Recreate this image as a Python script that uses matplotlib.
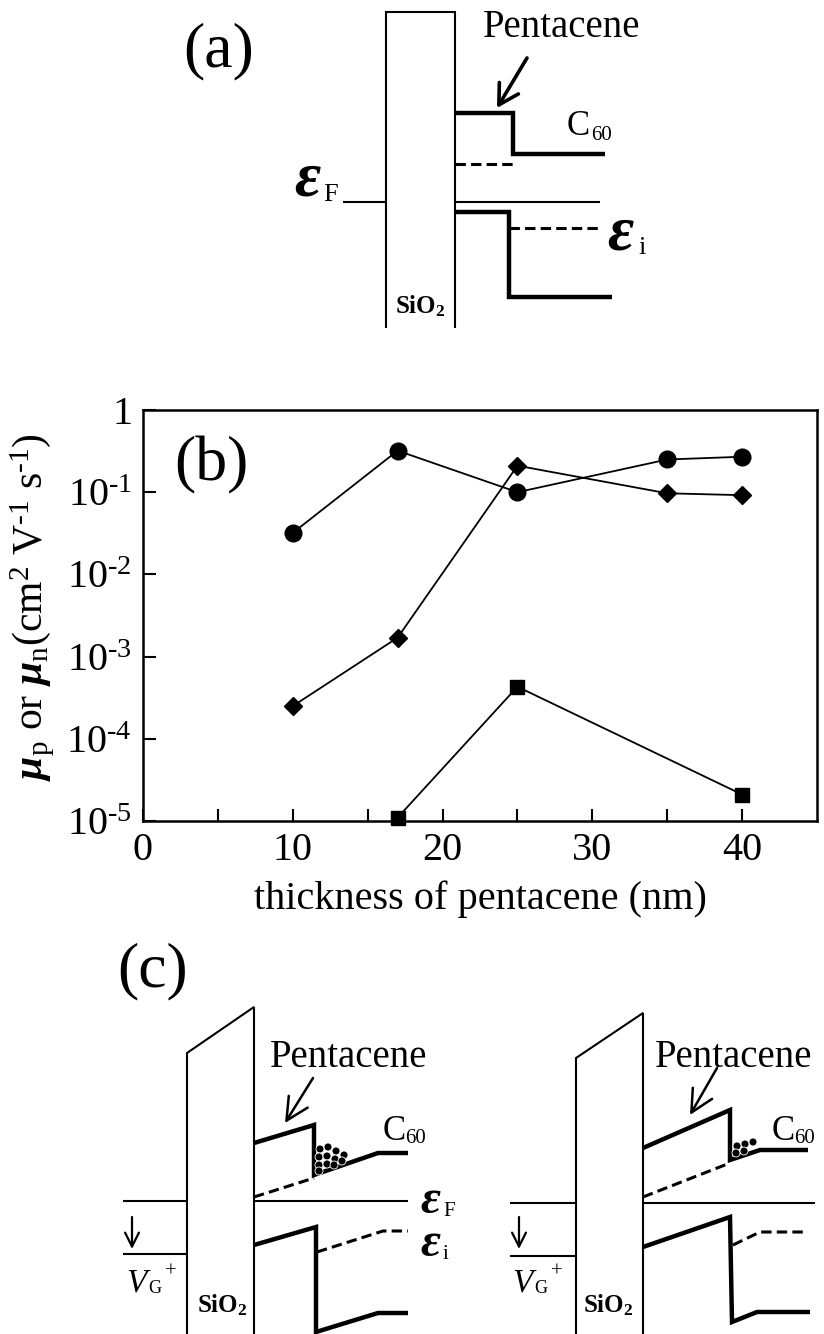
import matplotlib
matplotlib.use('Agg')
import matplotlib.pyplot as plt
from matplotlib.patches import Circle
from matplotlib.ticker import FixedLocator, NullLocator

# panel (b) data
thickness = [10, 17, 25, 35, 40]
mu_circle = [0.032, 0.32, 0.10, 0.25, 0.27]
mu_diamond = [2.5e-4, 1.7e-3, 0.21, 0.097, 0.092]
thickness_sq = [17, 25, 40]
mu_square = [1.1e-5, 4.3e-4, 2.1e-5]

x_ticks = [0, 10, 20, 30, 40]
x_minor = [5, 15, 25, 35]
y_ticks = [1e-5, 1e-4, 1e-3, 1e-2, 1e-1, 1]
y_tick_labels = [r'$10^{\text{-}5}$', r'$10^{\text{-}4}$', r'$10^{\text{-}3}$',
                 r'$10^{\text{-}2}$', r'$10^{\text{-}1}$', r'$1$']

# band diagrams, figure pixel coords (y down)
sio2_a = [(386, 328), (386, 12), (455, 12), (455, 328)]
ef_a = [[(343, 202), (386, 202)], [(455, 202), (600, 202)]]
lumo_a = [(455, 113), (513, 113), (513, 154), (605, 154)]
homo_a = [(455, 212), (509, 212), (509, 297), (612, 297)]
dash_a = [[(455, 164), (515, 164)], [(509, 228), (600, 228)]]

sio2_c1 = [(187, 1334), (187, 1053), (254, 1007), (254, 1334)]
thin_c1 = [[(123, 1201), (187, 1201)], [(123, 1254), (187, 1254)], [(254, 1201), (408, 1201)]]
lumo_c1 = [(254, 1143), (314, 1125), (314, 1175), (378, 1153), (408, 1153)]
homo_c1 = [(254, 1245), (316, 1227), (316, 1332), (378, 1313), (408, 1313)]
dash_c1 = [[(254, 1197), (314, 1178)], [(317, 1252), (383, 1231), (408, 1231)]]
balls_c1 = [(320, 1149), (328, 1147), (336, 1151), (344, 1155), (319, 1157), (327, 1156),
            (335, 1159), (342, 1161), (319, 1165), (327, 1164), (334, 1165), (319, 1171)]

sio2_c2 = [(576, 1334), (576, 1058), (643, 1013), (643, 1334)]
thin_c2 = [[(510, 1203), (576, 1203)], [(510, 1256), (576, 1256)], [(643, 1203), (815, 1203)]]
lumo_c2 = [(643, 1148), (730, 1110), (730, 1160), (760, 1150), (808, 1150)]
homo_c2 = [(643, 1247), (730, 1217), (732, 1322), (757, 1312), (810, 1312)]
dash_c2 = [[(643, 1197), (730, 1163)], [(733, 1245), (760, 1232), (808, 1232)]]
balls_c2 = [(737, 1146), (745, 1144), (753, 1142), (736, 1153), (744, 1151)]

plt.rcParams['font.family'] = 'Liberation Serif'
plt.rcParams['mathtext.fontset'] = 'custom'
plt.rcParams['mathtext.rm'] = 'Liberation Serif'
plt.rcParams['mathtext.it'] = 'Liberation Serif:italic'
plt.rcParams['mathtext.bf'] = 'Liberation Serif:bold'
plt.rcParams['mathtext.bfit'] = 'Liberation Serif:italic:bold'

fig = plt.figure(figsize=(8.24, 13.34), dpi=100)
dg = fig.add_axes([0, 0, 1, 1])
dg.set_xlim(0, 824)
dg.set_ylim(1334, 0)
dg.axis('off')


def poly(pts, lw=1.5, ls='-'):
    dg.plot([p[0] for p in pts], [p[1] for p in pts], color='black', lw=lw, ls=ls,
            solid_joinstyle='miter', solid_capstyle='butt', dash_capstyle='butt')


def arrow(tail, head, lw, hl, hw):
    dg.annotate('', xy=head, xytext=tail,
                arrowprops=dict(arrowstyle='->,head_length=%s,head_width=%s' % (hl, hw),
                                lw=lw, color='black', shrinkA=0, shrinkB=0,
                                mutation_scale=20))


def sub_text(x, y, main, sub, size, subsize, dx, dy, **kw):
    dg.text(x, y, main, size=size, ha='left', va='baseline', **kw)
    dg.text(x + dx, y + dy, sub, size=subsize, ha='left', va='baseline')


dashes = (0, (3.4, 1.7))
thick = 3.2

# (a)
poly(sio2_a)
for seg in ef_a:
    poly(seg)
poly(lumo_a, thick)
poly(homo_a, thick)
for seg in dash_a:
    poly(seg, 2.2, dashes)
dg.text(183, 51, '(a)', size=46, ha='left', va='center')
dg.text(483, 37, 'Pentacene', size=28, ha='left', va='baseline')
arrow((527, 58), (497, 108), 2.6, 0.7, 0.4)
sub_text(567, 135, 'C', '60', 25, 15, 24, 5)
sub_text(294, 195, 'ε', 'F', 46, 19, 29, 6, style='italic', weight='bold')
sub_text(607, 250, 'ε', 'i', 46, 19, 31, 4, style='italic', weight='bold')
dg.text(420, 313, r'$\mathbf{SiO_2}$', size=18, ha='center', va='baseline')

# (c)
for sio2, thin, lumo, homo, dsh, balls in [(sio2_c1, thin_c1, lumo_c1, homo_c1, dash_c1, balls_c1),
                                           (sio2_c2, thin_c2, lumo_c2, homo_c2, dash_c2, balls_c2)]:
    poly(sio2)
    for seg in thin:
        poly(seg)
    poly(lumo, thick)
    poly(homo, thick)
    for seg in dsh:
        poly(seg, 2.2, dashes)
    for b in balls:
        dg.add_patch(Circle(b, 4, facecolor='black', edgecolor='white', lw=0.6, zorder=3))

dg.text(117, 971, '(c)', size=46, ha='left', va='center')
for px, ax0, c60x, vgx, six, vx in [(270, (313, 1078, 285, 1123), 383, 126, 222, 132),
                                     (655, (717, 1068, 690, 1115), 772, 512, 608, 519)]:
    dg.text(px, 1067, 'Pentacene', size=28, ha='left', va='baseline')
    arrow((ax0[0], ax0[1]), (ax0[2], ax0[3]), 1.8, 0.8, 0.4)
    sub_text(c60x, 1140, 'C', '60', 25, 15, 22, 3)
    dg.text(vgx, 1292, 'V', size=24, style='italic', ha='left', va='baseline')
    dg.text(vgx + 22, 1293, 'G', size=13, ha='left', va='baseline')
    dg.text(vgx + 39, 1272, '+', size=15, ha='left', va='center')
    dg.text(six, 1312, r'$\mathbf{SiO_2}$', size=18, ha='center', va='baseline')
    arrow((vx, 1217), (vx, 1249), 1.6, 0.5, 0.25)
sub_text(420, 1213, 'ε', 'F', 35, 15, 23, 3, style='italic', weight='bold')
sub_text(420, 1256, 'ε', 'i', 35, 15, 23, 3, style='italic', weight='bold')

# (b)
ax = fig.add_axes([143 / 824, 1 - 821 / 1334, 674 / 824, 411 / 1334])
ax.plot(thickness, mu_circle, '-o', color='black', lw=1.3, ms=12)
ax.plot(thickness, mu_diamond, '-D', color='black', lw=1.3, ms=9.5)
ax.plot(thickness_sq, mu_square, '-s', color='black', lw=1.3, ms=10, clip_on=False)
ax.set_yscale('log')
ax.set_xlim(0, 45)
ax.set_ylim(1e-5, 1)
ax.xaxis.set_major_locator(FixedLocator(x_ticks))
ax.xaxis.set_minor_locator(FixedLocator(x_minor))
ax.set_yticks(y_ticks)
ax.set_yticklabels(y_tick_labels)
ax.yaxis.set_minor_locator(NullLocator())
ax.tick_params(which='both', direction='in', length=9, width=1.5, labelsize=29, pad=8)
for s in ax.spines.values():
    s.set_linewidth(1.8)
ax.set_xlabel('thickness of pentacene (nm)', size=29, labelpad=8)
ax.set_ylabel(r'$\mathbfit{\mu}_\mathrm{p}$ or $\mathbfit{\mu}_\mathrm{n}$'
              r'(cm$^2$ V$^{\text{-}1}$ s$^{\text{-}1}$)', size=30)
ax.yaxis.set_label_coords(-0.128, 0.52)
ax.text(174, 465, '(b)', size=46, ha='left', va='center', transform=dg.transData)

fig.savefig('out.png', dpi=100)
